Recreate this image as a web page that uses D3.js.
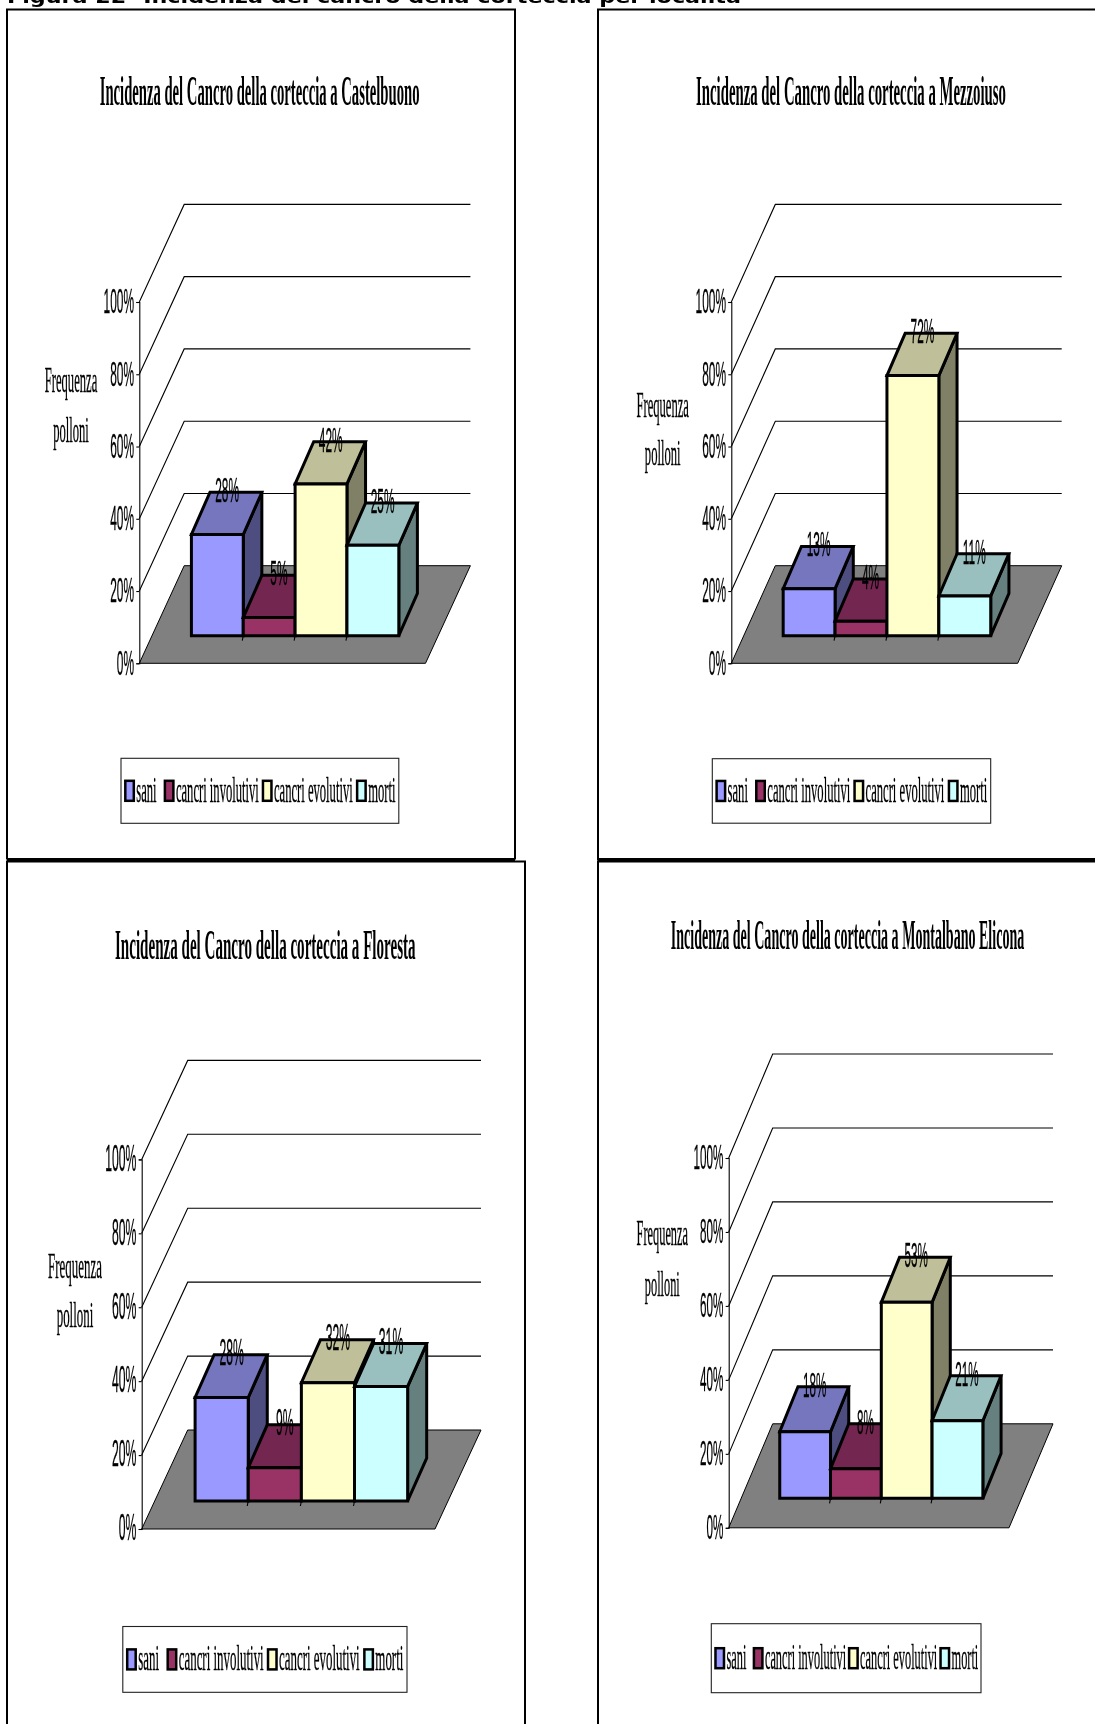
<!DOCTYPE html>
<html>
<head>
<meta charset="utf-8">
<title>Incidenza del Cancro della corteccia</title>
<script src="https://cdn.jsdelivr.net/npm/d3@7"></script>
<style>
    body { margin: 0; background: #fff; overflow: hidden; }
    svg { display: block; filter: blur(0.4px); }
    .serif { font-family: "Liberation Serif", serif; fill: #000; stroke: #000; stroke-width: 0.35px; }
    .sans { font-family: "Liberation Sans", sans-serif; fill: #000; stroke: #000; stroke-width: 0.35px; }
</style>
</head>
<body>
<script>
//chart data
var categories = ["sani", "cancri involutivi", "cancri evolutivi", "morti"];
var sites = ["Castelbuono", "Mezzoiuso", "Floresta", "Montalbano Elicona"];
var castelbuonoValues = [28, 5, 42, 25];
var mezzoiusoValues = [13, 4, 72, 11];
var florestaValues = [28, 9, 32, 31];
var montalbanoValues = [18, 8, 53, 21];
var siteValues = [castelbuonoValues, mezzoiusoValues, florestaValues, montalbanoValues];
var tickValues = [0, 20, 40, 60, 80, 100];
var axisTitle = ["Frequenza", "polloni"];
var figureCaption = "Figura 22- Incidenza del cancro della corteccia per località";

//colours of each series: front, top and side face
var frontColors = ["#9999ff", "#993366", "#ffffcc", "#ccffff"];
var topColors = ["#7676bf", "#732650", "#bfbf99", "#99bfbf"];
var sideColors = ["#4d4d80", "#4d1a33", "#808066", "#668080"];

//placement of the four charts on the page
var layouts = [
    {x0: 139.3, y100: 302, y0: 663.3, width: 286.2, dx: 44.9, dy: 97.6, titleX: 259.6, titleY: 105, titleLen: 320,
     axisTitleX: 71, axisTitleY: [392, 442], legend: [121, 758.3, 277.8, 65]},
    {x0: 731.3, y100: 302, y0: 663.3, width: 286.4, dx: 44, dy: 97.6, titleX: 851, titleY: 104.5, titleLen: 310,
     axisTitleX: 662.7, axisTitleY: [417, 465], legend: [712.3, 758.7, 278.4, 64.5]},
    {x0: 141.7, y100: 1159.4, y0: 1529, width: 293.3, dx: 46, dy: 99, titleX: 265.3, titleY: 958.7, titleLen: 300.6,
     axisTitleX: 75, axisTitleY: [1278, 1326.6], legend: [122.8, 1626.5, 284.2, 65.8]},
    {x0: 728.7, y100: 1158, y0: 1527.8, width: 280.3, dx: 44, dy: 104, titleX: 847.5, titleY: 949, titleLen: 353.7,
     axisTitleX: 662.3, axisTitleY: [1244.6, 1296], legend: [711.3, 1623.7, 269.7, 69]}
];

//horizontal position of the legend entries, as a share of the legend box
var legendShares = [0.0155, 0.158, 0.511, 0.85];

//bars stand between these two fractions of the floor depth
var barDepthFront = 0.283,
    barDepthBack = 0.716,
    barShiftBack = 0.697; //the back of the bars shifts a little less sideways than it rises

var svg = d3.select("body")
    .append("svg")
    .attr("width", 1095)
    .attr("height", 1724);

setFrames();
setCaption();
layouts.forEach(function(layout, i){
    setChart(layout, sites[i], siteValues[i]);
});

//outer boxes around the charts, two of them run off the page
function setFrames(){
    var frames = [
        {d: "M7,859.5V9.5H515V859.5", w: 2},
        {d: "M7,859.5H515", w: 3},
        {d: "M1096,9.5H598V859.5H1096", w: 2},
        {d: "M598,859.5H1096", w: 3},
        {d: "M7,1725V861.5H525V1725", w: 2},
        {d: "M1096,861.5H598V1725", w: 2}
    ];
    svg.selectAll(".frame")
        .data(frames)
        .enter()
        .append("path")
        .attr("class", "frame")
        .attr("d", function(d){ return d.d; })
        .attr("fill", "none")
        .attr("stroke", "#000")
        .attr("stroke-width", function(d){ return d.w; });
}

//caption of the figure, cropped by the top of the page
function setCaption(){
    svg.append("text")
        .attr("x", 7)
        .attr("y", 3)
        .attr("textLength", 734)
        .attr("lengthAdjust", "spacingAndGlyphs")
        .style("font-family", "'DejaVu Sans', sans-serif")
        .style("font-weight", "bold")
        .style("font-size", "18px")
        .text(figureCaption);
}

//text squeezed horizontally around its anchor, the way the original chart was stretched
function addSqueezed(parent, x, y, label, squeeze, cls, size, anchor){
    return parent.append("text")
        .attr("class", cls)
        .attr("transform", "translate(" + x + "," + y + ") scale(" + squeeze + ",1)")
        .attr("text-anchor", anchor)
        .style("font-size", size + "px")
        .text(label);
}

function setChart(layout, site, values){
    var chart = svg.append("g").attr("class", "chart");
    var squeeze = 0.35 * layout.width / 286;
    var sansSqueeze = 0.33 * layout.width / 286;

    //value axis on the front left corner
    var yScale = d3.scaleLinear()
        .domain([0, 100])
        .range([layout.y0, layout.y100]);

    //categories on the front edge of the floor
    var xScale = d3.scaleBand()
        .domain(categories)
        .range([0, layout.width])
        .paddingInner(0)
        .paddingOuter(0.76);

    //project a category offset, a value and a depth fraction on the page
    function px(x, depth){ return layout.x0 + x + depth * layout.dx; }
    function py(value, depth){ return yScale(value) - depth * layout.dy; }
    function point(x, value, depth){ return px(x, depth) + "," + py(value, depth); }
    function backPoint(x, value){ return px(x, barShiftBack) + "," + py(value, barDepthBack); }

    //title, squeezed to the width it has in the picture
    var title = addSqueezed(chart, layout.titleX, layout.titleY,
        "Incidenza del Cancro della corteccia a " + site, 1, "serif", 42, "middle")
        .style("font-weight", "bold")
        .style("stroke-width", "0");
    title.attr("transform", "translate(" + layout.titleX + "," + layout.titleY + ") scale(" +
        (layout.titleLen / title.node().getComputedTextLength()) + ",1)");

    //grey floor
    chart.append("polygon")
        .attr("points", [point(0, 0, 0), point(layout.width, 0, 0), point(layout.width, 0, 1), point(0, 0, 1)].join(" "))
        .attr("fill", "#808080")
        .attr("stroke", "#000")
        .attr("stroke-width", 1);

    //gridlines on the side and back wall
    chart.selectAll(".grid")
        .data(tickValues.slice(1))
        .enter()
        .append("polyline")
        .attr("class", "grid")
        .attr("points", function(d){
            return [point(0, d, 0), point(0, d, 1), point(layout.width, d, 1)].join(" ");
        })
        .attr("fill", "none")
        .attr("stroke", "#000")
        .attr("stroke-width", 1.1);

    var yAxis = d3.axisLeft(yScale)
        .tickValues(tickValues)
        .tickSize(3)
        .tickFormat(function(d){ return d + "%"; });

    var axis = chart.append("g")
        .attr("class", "axis")
        .attr("transform", "translate(" + layout.x0 + ",0)")
        .call(yAxis);

    axis.selectAll("path, line").attr("stroke", "#000").attr("stroke-width", 1.1);
    axis.selectAll("text")
        .attr("class", "sans")
        .attr("x", 0)
        .attr("dy", "0.3em")
        .attr("transform", "translate(-5.3,0) scale(" + sansSqueeze + ",1)")
        .attr("text-anchor", "end")
        .style("font-size", "36px");

    //axis title
    axisTitle.forEach(function(word, i){
        addSqueezed(chart, layout.axisTitleX, layout.axisTitleY[i], word, squeeze, "serif", 36, "middle");
    });

    //small ticks under the bars, between the categories
    chart.selectAll(".catTick")
        .data(categories.slice(1))
        .enter()
        .append("line")
        .attr("class", "catTick")
        .attr("x1", function(d){ return px(xScale(d), barDepthFront); })
        .attr("y1", py(0, barDepthFront))
        .attr("x2", function(d){ return px(xScale(d), barDepthFront) - 1; })
        .attr("y2", py(0, barDepthFront) + 5)
        .attr("stroke", "#000")
        .attr("stroke-width", 1.1);

    //one block per category, left to right so that later blocks cover earlier ones
    var bars = chart.selectAll(".bar")
        .data(categories)
        .enter()
        .append("g")
        .attr("class", "bar")
        .attr("stroke", "#000")
        .attr("stroke-width", 3)
        .attr("stroke-linejoin", "miter");

    bars.append("polygon")
        .attr("fill", function(d, i){ return sideColors[i]; })
        .attr("points", function(d, i){
            var r = xScale(d) + xScale.bandwidth();
            return [point(r, 0, barDepthFront), backPoint(r, 0),
                    backPoint(r, values[i]), point(r, values[i], barDepthFront)].join(" ");
        });

    bars.append("polygon")
        .attr("fill", function(d, i){ return topColors[i]; })
        .attr("points", function(d, i){
            var l = xScale(d), r = l + xScale.bandwidth();
            return [point(l, values[i], barDepthFront), point(r, values[i], barDepthFront),
                    backPoint(r, values[i]), backPoint(l, values[i])].join(" ");
        });

    bars.append("polygon")
        .attr("fill", function(d, i){ return frontColors[i]; })
        .attr("points", function(d, i){
            var l = xScale(d), r = l + xScale.bandwidth();
            return [point(l, 0, barDepthFront), point(r, 0, barDepthFront),
                    point(r, values[i], barDepthFront), point(l, values[i], barDepthFront)].join(" ");
        });

    //value labels sit on the back edge of the top face
    categories.forEach(function(category, i){
        var middle = xScale(category) + xScale.bandwidth() / 2;
        var labelX = px(middle, (barDepthFront + barDepthBack) / 2);
        var labelY = py(values[i], barDepthBack) + 10;
        addSqueezed(chart, labelX, labelY, values[i] + "%", sansSqueeze, "sans", 36, "middle");
    });

    setLegend(chart, layout, squeeze);
}

//legend box under the chart
function setLegend(chart, layout, squeeze){
    var box = layout.legend;
    var legend = chart.append("g")
        .attr("class", "legend")
        .attr("transform", "translate(" + box[0] + "," + box[1] + ")");

    legend.append("rect")
        .attr("width", box[2])
        .attr("height", box[3])
        .attr("fill", "#fff")
        .attr("stroke", "#222")
        .attr("stroke-width", 1.1);

    var items = legend.selectAll(".item")
        .data(categories)
        .enter()
        .append("g")
        .attr("class", "item")
        .attr("transform", function(d, i){
            return "translate(" + (legendShares[i] * box[2]) + "," + (box[3] / 2) + ")";
        });

    items.append("rect")
        .attr("y", -10)
        .attr("width", 8.5)
        .attr("height", 20)
        .attr("fill", function(d, i){ return frontColors[i]; })
        .attr("stroke", "#000")
        .attr("stroke-width", 2.5);

    items.each(function(d){
        addSqueezed(d3.select(this), 11, 11, d, squeeze, "serif", 36, "start");
    });
}
</script>
</body>
</html>
